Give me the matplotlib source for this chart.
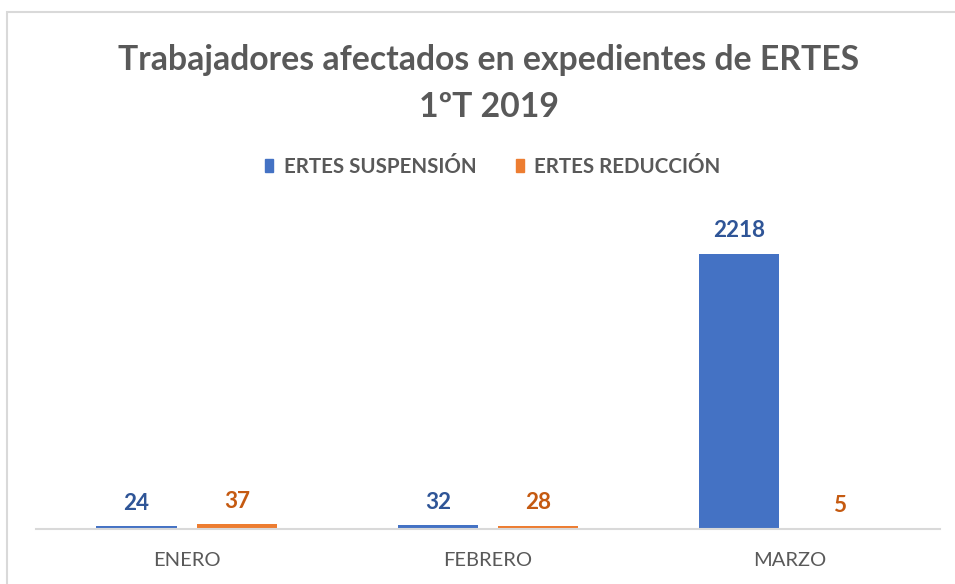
import matplotlib
matplotlib.use("Agg")
import matplotlib.pyplot as plt
from matplotlib.patches import Rectangle, Patch
import numpy as np

categories = ["ENERO", "FEBRERO", "MARZO"]
suspension = [24, 32, 2218]
reduccion = [37, 28, 5]
series_names = ["ERTES SUSPENSIÓN", "ERTES REDUCCIÓN"]
title_text = "Trabajadores afectados en expedientes de ERTES\n1ºT 2019"

FONT = ["Lato", "DejaVu Sans"]
plt.rcParams['font.family'] = FONT

W, H = 955, 584
fig = plt.figure(figsize=(W/100, H/100), dpi=100)
fig.patch.set_facecolor("white")

# chart border
fig.patches.append(Rectangle((7/W, 0 - 0.05), 1.0, (H-12)/H + 0.05, transform=fig.transFigure,
                             fill=False, edgecolor="#d9d9d9", linewidth=1.5))

ax_left, ax_right = 36/W, 940/W
ax_bottom = 1 - 529/H
ax_top = 1 - 219/H
ax = fig.add_axes([ax_left, ax_bottom, ax_right-ax_left, ax_top-ax_bottom])

blue = "#4472C4"
orange = "#ED7D31"
blue_lbl = "#2F5597"
orange_lbl = "#C55A11"

x = np.arange(len(categories))
bw = 0.266
off = 0.1665
b1 = ax.bar(x - off, suspension, bw, color=blue, label=series_names[0])
b2 = ax.bar(x + off, reduccion, bw, color=orange, label=series_names[1])

for bars, vals, c in ((b1, suspension, blue_lbl), (b2, reduccion, orange_lbl)):
    for r, v in zip(bars, vals):
        ax.annotate(str(v), (r.get_x() + r.get_width()/2, r.get_height()),
                    xytext=(0, 9), textcoords="offset points", ha="center", va="bottom",
                    fontsize=16.2, fontweight="bold", color=c)

ax.set_xlim(-0.5, len(categories) - 0.5)
ax.set_ylim(0, 2500)
ax.set_yticks([])
ax.set_xticks(x)
ax.set_xticklabels(categories, fontsize=14.5, color="#595959")
ax.tick_params(axis="x", length=0, pad=16.5)
for s in ("top", "right", "left"):
    ax.spines[s].set_visible(False)
ax.spines["bottom"].set_color("#d9d9d9")
ax.spines["bottom"].set_linewidth(1.5)

fig.text(489/W, 1 - 83.5/H, title_text, ha="center", va="center", fontsize=24.3,
         fontweight="bold", color="#595959", linespacing=1.55)

handles = [Patch(color=blue), Patch(color=orange)]
fig.legend(handles, series_names, loc="center", bbox_to_anchor=(493/W, 1 - 167/H),
           ncol=2, frameon=False, handlelength=0.38, handleheight=0.6,
           handletextpad=0.5, columnspacing=1.95, labelcolor="#595959",
           prop={"family": FONT, "size": 14.8, "weight": "bold"})

fig.savefig("out.png", dpi=100)
